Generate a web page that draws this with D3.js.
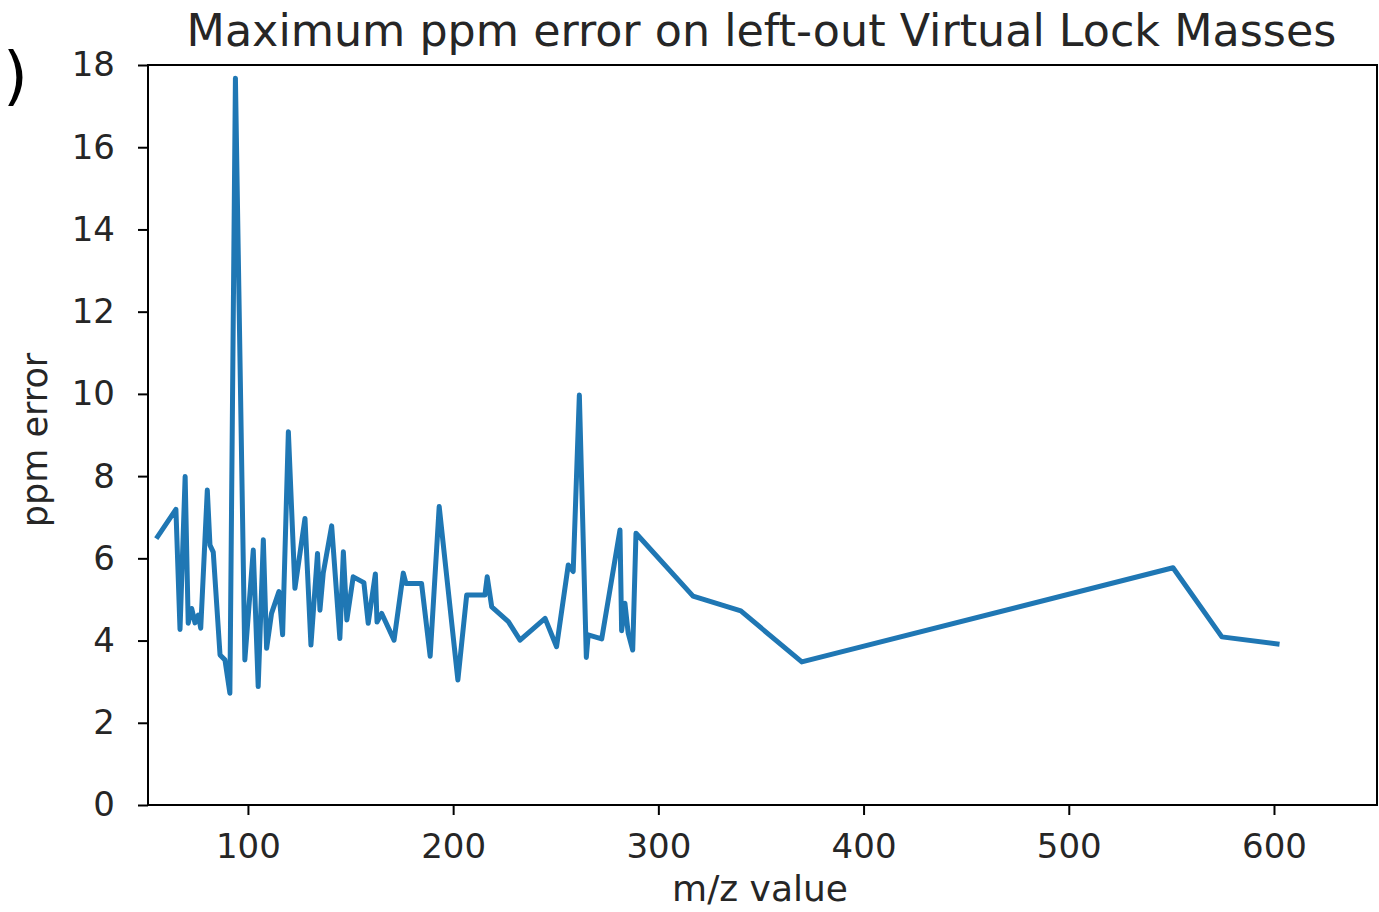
<!DOCTYPE html>
<html>
<head>
<meta charset="utf-8">
<script src="https://cdn.jsdelivr.net/npm/d3@7"></script>
<style>
  html, body { margin: 0; padding: 0; background: #fff; }
  svg { display: block; }
  text { font-family: "DejaVu Sans", sans-serif; fill: #262626; }
</style>
</head>
<body>
<svg id="chart" width="1379" height="912"></svg>
<script>
// m/z of each left-out virtual lock mass, and its maximum ppm error
const mzValues = [
  56.0, 64.9, 66.9, 69.4, 70.9, 72.6, 74.2, 75.8, 77.0, 80.2,
  81.5, 83.1, 86.4, 88.8, 91.2, 93.9, 98.5, 102.6, 105.0, 107.5,
  109.1, 111.5, 115.1, 116.9, 119.7, 122.9, 127.8, 130.7, 133.9, 135.1,
  136.7, 140.8, 144.8, 146.5, 148.2, 151.3, 156.5, 158.6, 162.1, 162.9,
  165.2, 171.2, 175.7, 177.0, 184.6, 188.8, 193.2, 202.3, 206.6, 215.5,
  216.6, 218.8, 226.9, 232.6, 244.8, 250.4, 256.1, 258.5, 261.5, 264.9,
  265.8, 272.4, 281.3, 282.1, 283.7, 285.3, 287.5, 289.1, 316.9, 340.2,
  369.9, 550.8, 574.6, 601.5
];
const ppmError = [
  6.53, 7.19, 4.27, 7.99, 4.42, 4.78, 4.43, 4.62, 4.30, 7.66,
  6.32, 6.15, 3.65, 3.53, 2.72, 17.68, 3.53, 6.20, 2.88, 6.45,
  3.81, 4.66, 5.19, 4.14, 9.08, 5.27, 6.97, 3.89, 6.12, 4.74,
  5.64, 6.79, 4.05, 6.16, 4.50, 5.55, 5.41, 4.42, 5.62, 4.45,
  4.66, 4.01, 5.64, 5.39, 5.39, 3.62, 7.26, 3.04, 5.11, 5.11,
  5.55, 4.82, 4.46, 4.01, 4.54, 3.85, 5.84, 5.68, 9.97, 3.59,
  4.14, 4.04, 6.69, 4.24, 4.91, 4.18, 3.77, 6.61, 5.08, 4.72,
  3.48, 5.77, 4.09, 3.92
];
const xTicks = [100, 200, 300, 400, 500, 600];
const yTicks = [0, 2, 4, 6, 8, 10, 12, 14, 16, 18];
const xDomain = [51.3, 650.2];
const yDomain = [0, 18];

const titleText = "Maximum ppm error on left-out Virtual Lock Masses";
const xLabel = "m/z value";
const yLabel = "ppm error";

const svg = d3.select("#chart");
const plot = { left: 148, top: 65, right: 1377, bottom: 805 };

const x = d3.scaleLinear().domain(xDomain).range([plot.left, plot.right]);
const y = d3.scaleLinear().domain(yDomain).range([plot.bottom, plot.top]);

const points = mzValues.map((m, i) => ({ mz: m, err: ppmError[i] }));

// the error trace
svg.append("path")
  .datum(points)
  .attr("fill", "none")
  .attr("stroke", "#1f77b4")
  .attr("stroke-width", 5)
  .attr("stroke-linejoin", "round")
  .attr("stroke-linecap", "square")
  .attr("d", d3.line().x(d => x(d.mz)).y(d => y(d.err)));

// axes
const xAxis = svg.append("g")
  .attr("transform", `translate(0,${plot.bottom})`)
  .call(d3.axisBottom(x).tickValues(xTicks).tickSize(10).tickPadding(19).tickFormat(d3.format("d")));
const yAxis = svg.append("g")
  .attr("transform", `translate(${plot.left},0)`)
  .call(d3.axisLeft(y).tickValues(yTicks).tickSize(10).tickPadding(23).tickFormat(d3.format("d")));

[xAxis, yAxis].forEach(g => {
  g.select(".domain").remove();
  g.selectAll(".tick line").attr("stroke", "#000").attr("stroke-width", 2);
  g.selectAll(".tick text")
    .attr("font-family", "DejaVu Sans, sans-serif")
    .attr("font-size", 34)
    .attr("fill", "#262626");
});
xAxis.selectAll(".tick text").attr("dy", "0.71em");

// frame around the plotting area
svg.append("rect")
  .attr("x", plot.left).attr("y", plot.top)
  .attr("width", plot.right - plot.left).attr("height", plot.bottom - plot.top)
  .attr("fill", "none").attr("stroke", "#000").attr("stroke-width", 2);

// title and axis labels
svg.append("text")
  .attr("x", (plot.left + plot.right) / 2 - 1).attr("y", 46)
  .attr("text-anchor", "middle").attr("font-size", 44.4)
  .text(titleText);

svg.append("text")
  .attr("x", 760).attr("y", 901)
  .attr("text-anchor", "middle").attr("font-size", 36)
  .text(xLabel);

svg.append("text")
  .attr("transform", `translate(47,440) rotate(-90)`)
  .attr("text-anchor", "middle").attr("font-size", 35)
  .text(yLabel);

// panel marker at the top-left corner
svg.append("text")
  .attr("x", 3).attr("y", 98)
  .attr("font-size", 64).style("fill", "#000")
  .text(")");
</script>
</body>
</html>
